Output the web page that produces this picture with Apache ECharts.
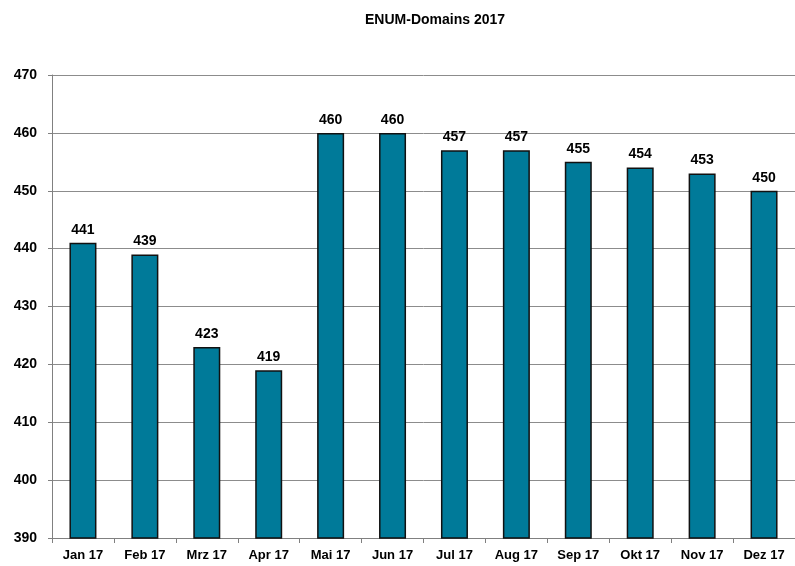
<!DOCTYPE html>
<html>
<head>
<meta charset="utf-8">
<script src="https://cdn.jsdelivr.net/npm/echarts@6/dist/echarts.min.js"></script>
<style>
  html, body { margin: 0; padding: 0; background: #fff; }
  #chart { width: 795px; height: 566px; }
</style>
</head>
<body>
<div id="chart"></div>
<script>
// Monatswerte ENUM-Domains 2017
var months = ['Jan 17', 'Feb 17', 'Mrz 17', 'Apr 17', 'Mai 17', 'Jun 17',
  'Jul 17', 'Aug 17', 'Sep 17', 'Okt 17', 'Nov 17', 'Dez 17'];
var domains = [441, 439, 423, 419, 460, 460, 457, 457, 455, 454, 453, 450];
var yMin = 390, yMax = 470, yStep = 10;

var chart = echarts.init(document.getElementById('chart'));
var font = '"Liberation Sans", Arial, sans-serif';

chart.setOption({
  animation: false,
  title: {
    text: 'ENUM-Domains 2017',
    left: 360,
    top: 8,
    textStyle: { fontFamily: font, fontSize: 14, fontWeight: 'bold', color: '#000' }
  },
  grid: { left: 52, top: 75, width: 744, height: 463 },
  xAxis: {
    type: 'category',
    data: months,
    axisLine: { lineStyle: { color: '#808080', width: 1 } },
    axisTick: { show: true, length: 5, lineStyle: { color: '#808080' } },
    axisLabel: { margin: 11, fontFamily: font, fontSize: 13, fontWeight: 'bold', color: '#000' }
  },
  yAxis: {
    type: 'value',
    min: yMin,
    max: yMax,
    interval: yStep,
    axisLine: { show: true, lineStyle: { color: '#808080', width: 1 } },
    axisTick: { show: true, length: 4, lineStyle: { color: '#808080' } },
    splitLine: { lineStyle: { color: '#8c8c8c', width: 1 } },
    axisLabel: { margin: 15, fontFamily: font, fontSize: 14, fontWeight: 'bold', color: '#000' }
  },
  series: [{
    type: 'bar',
    data: domains,
    barWidth: 27,
    itemStyle: { color: '#007A99', borderColor: '#111', borderWidth: 1.5 },
    label: {
      show: true,
      position: 'top',
      distance: 6,
      fontFamily: font,
      fontSize: 14,
      fontWeight: 'bold',
      color: '#000'
    }
  }]
});
</script>
</body>
</html>
